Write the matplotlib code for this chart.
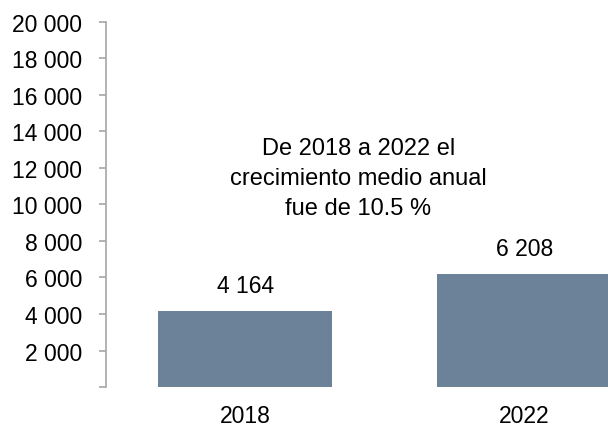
import matplotlib.pyplot as plt

# Data
years = ["2018", "2022"]
values = [4164, 6208]
note = "De 2018 a 2022 el\ncrecimiento medio anual\nfue de 10.5 %"
yticks = list(range(0, 20001, 2000))

plt.rcParams['font.family'] = ['Liberation Sans', 'DejaVu Sans']


def fmt(v):
    return f"{v:,}".replace(",", " ")


fig = plt.figure(figsize=(6.08, 4.27), dpi=100)
ax = fig.add_axes([0.174, 0.0913, 0.826, 0.855])

x = range(len(years))
bars = ax.bar(x, values, width=0.625, color="#6b8299")

for xi, v in zip(x, values):
    ax.annotate(fmt(v), (xi, v), xytext=(0, 10), textcoords="offset points",
                ha="center", va="bottom", fontsize=16.5)

ax.text(0.405, 11450, note, ha="center", va="center", fontsize=17,
        linespacing=1.45)

ax.set_xlim(-0.5, 1.3)
ax.set_ylim(0, 20000)
ax.set_xticks(list(x))
ax.set_xticklabels(years, fontsize=16.5)
ax.set_yticks(yticks)
ax.set_yticklabels(["" if t == 0 else fmt(t) for t in yticks], fontsize=16.5)

for s in ["top", "right", "bottom"]:
    ax.spines[s].set_visible(False)
ax.spines["left"].set_color("#a6a6a6")
ax.spines["left"].set_linewidth(1.2)
ax.tick_params(axis="y", colors="#a6a6a6", labelcolor="black", length=5,
               width=1.2, pad=12)
ax.tick_params(axis="x", length=0, pad=12)

fig.savefig("out.png", dpi=100)
